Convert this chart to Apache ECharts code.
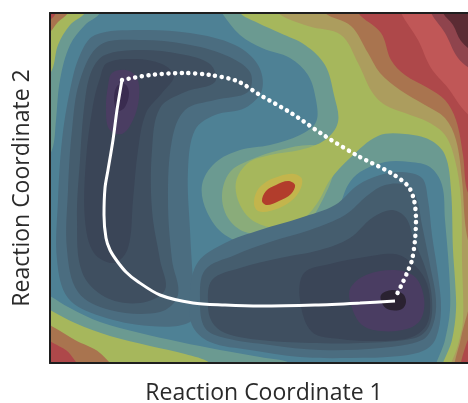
<!DOCTYPE html>
<html><head><meta charset="utf-8">
<script src="https://cdn.jsdelivr.net/npm/echarts@6/dist/echarts.min.js"></script>
<style>html,body{margin:0;padding:0;background:#fff;}#c{width:468px;height:403px;}</style>
</head><body><div id="c"></div>
<script>
// ---- axis extents (arbitrary reaction-coordinate units) ----
const xRange = [0, 418];
const yRange = [0, 350];
const xTitle = 'Reaction Coordinate 1';
const yTitle = 'Reaction Coordinate 2';

// ---- paths [rc1, rc2] ----
const solidPath = [[72,283],[67,253],[63,223],[58,193],[55,175],[54,148],[56,125],[60,113],[67,102],[76,91],[87,82],[110,68],[143,60],[175,58],[210,57],[265,58],[310,60],[345,62]];
const dottedPath = [[72,283],[100,288],[133,290],[160,288],[187,282],[210,268],[241,250],[275,227],[308,207],[341,190],[358,177],[364,163],[366,143],[365,123],[362,103],[357,90],[352,79],[346,67]];

// ---- contour region boundaries [rc1, rc2] (high energy) ----
const plateauH1 = [[165,363],[172,350],[190,328],[212,315],[240,305],[258,288],[266,263],[266,241],[250,228],[220,218],[190,213],[165,200],[152,178],[157,151],[175,128],[205,118],[240,123],[268,135],[287,153],[298,178],[310,191],[335,201],[360,201],[380,196],[392,178],[395,143],[399,93],[400,53],[395,23],[386,-12],[430,-12],[430,363]];
const plateauH2 = [[185,363],[190,350],[208,340],[230,330],[255,318],[275,298],[284,268],[288,241],[275,223],[250,213],[220,208],[198,200],[186,181],[190,158],[205,141],[230,135],[252,143],[268,161],[280,183],[300,205],[328,227],[355,229],[380,223],[395,208],[401,173],[403,113],[405,83],[406,53],[402,23],[392,-12],[430,-12],[430,363]];
const plateauH3 = [[225,363],[228,350],[258,337],[291,328],[308,300],[322,271],[335,258],[355,250],[378,241],[395,228],[405,203],[411,163],[412,103],[413,43],[408,18],[400,-12],[430,-12],[430,363]];
const plateauH4 = [[272,363],[275,350],[301,337],[318,310],[330,290],[350,273],[375,258],[395,245],[406,223],[412,183],[416,133],[422,113],[430,113],[430,363]];
const plateauH5 = [[305,363],[308,350],[331,330],[341,303],[355,288],[378,275],[395,263],[406,243],[413,208],[417,173],[425,163],[430,163],[430,363]];
const plateauH6 = [[348,363],[351,350],[368,323],[381,295],[398,275],[412,255],[425,243],[430,243],[430,363]];
const plateauH7 = [[378,363],[381,350],[395,330],[408,305],[425,291],[430,291],[430,363]];
const plateauH8 = [[390,363],[393,350],[403,338],[411,322],[425,310],[430,310],[430,363]];
const peakH1b = [[172,168],[180,191],[200,203],[230,213],[260,218],[280,213],[285,198],[275,168],[255,138],[225,128],[195,131],[178,145]];
const peakGold = [[204,159],[207,172],[216,181],[230,187],[244,189],[252,184],[249,171],[237,159],[220,152],[208,152]];
const peakRed = [[212,162],[216,172],[226,178],[238,182],[245,178],[241,169],[229,162],[217,158]];
const cornerTL_H1 = [[-10,363],[50,363],[50,350],[35,338],[20,318],[10,283],[6,243],[2,213],[-10,198]];
const cornerTL_H2 = [[-10,363],[38,363],[35,350],[20,338],[8,318],[2,293],[-10,278]];
const cornerTL_H4 = [[-10,363],[22,363],[18,350],[8,341],[0,331],[-10,325]];
const cornerTL_H5 = [[-10,363],[10,363],[6,350],[0,343],[-10,339]];
const cornerBL_H1 = [[-10,73],[0,67],[20,55],[50,41],[90,30],[130,21],[170,13],[210,6],[240,0],[250,-12],[-10,-12]];
const cornerBL_H2 = [[-10,58],[0,53],[25,40],[60,27],[100,17],[135,9],[160,0],[165,-12],[-10,-12]];
const cornerBL_H4 = [[-10,41],[5,35],[25,23],[50,10],[65,-12],[-10,-12]];
const cornerBL_H5 = [[-10,25],[5,19],[20,9],[30,-12],[-10,-12]];
const cornerBR_H4 = [[425,73],[417,48],[411,25],[405,-12],[430,-12]];
const cornerBR_H5 = [[425,33],[416,18],[411,-12],[430,-12]];

// ---- contour region boundaries (low energy wells) ----
const wellA_L1 = [[45,328],[90,333],[140,330],[185,318],[208,298],[212,273],[195,255],[165,248],[145,233],[138,193],[140,133],[143,83],[145,63],[140,41],[100,37],[50,47],[18,65],[7,103],[8,163],[12,223],[20,273],[30,308]];
const wellA_L2 = [[50,318],[90,323],[135,319],[175,308],[200,291],[198,271],[165,263],[135,253],[122,223],[118,163],[122,103],[128,68],[110,51],[60,53],[28,71],[17,113],[18,173],[22,233],[30,283]];
const wellA_L3 = [[55,308],[90,313],[130,309],[160,299],[165,281],[135,271],[110,255],[102,213],[102,153],[110,103],[115,73],[90,60],[55,66],[32,91],[27,143],[30,203],[35,263],[42,293]];
const wellA_L4 = [[57,300],[85,304],[112,299],[124,287],[112,270],[96,250],[88,213],[83,163],[78,115],[64,100],[44,110],[35,143],[36,203],[43,258],[50,285]];
const wellA_L5 = [[62,290],[76,293],[87,285],[89,265],[83,243],[72,229],[59,234],[56,256],[58,277]];
const wellA_L6 = [[67,277],[75,279],[79,270],[75,256],[68,252],[64,263]];
const wellB_L1 = [[140,71],[148,101],[175,120],[210,133],[250,145],[285,158],[308,178],[330,188],[352,191],[372,185],[378,163],[382,128],[388,88],[391,53],[386,25],[375,13],[350,7],[300,5],[250,6],[200,13],[160,21],[142,38]];
const wellB_L2 = [[150,63],[155,93],[185,108],[220,121],[260,133],[295,148],[318,168],[335,178],[355,178],[366,166],[372,138],[380,98],[386,63],[383,38],[372,23],[330,15],[270,13],[220,18],[175,25],[155,35]];
const wellB_L3 = [[158,58],[162,83],[190,95],[230,105],[270,113],[300,125],[322,145],[342,153],[356,145],[364,123],[376,93],[382,63],[379,37],[365,25],[310,20],[260,20],[210,23],[175,30],[162,41]];
const wellB_L4 = [[250,63],[254,90],[280,99],[315,106],[345,109],[362,100],[375,84],[380,63],[377,39],[362,26],[330,22],[290,24],[262,31]];
const wellB_L5 = [[300,74],[316,88],[345,93],[365,86],[374,65],[371,44],[357,34],[330,32],[312,38],[302,55]];
const wellB_L6 = [[331,68],[342,73],[353,69],[356,61],[352,54],[340,53],[333,58]];

// drawing order: level name + region
const contourLayers = [
  ['H1', plateauH1], ['H1', cornerTL_H1], ['H1', cornerBL_H1],
  ['H1b', peakH1b],
  ['H2', plateauH2], ['H2', cornerTL_H2], ['H2', cornerBL_H2],
  ['H3', plateauH3],
  ['H4', plateauH4], ['H4', cornerTL_H4], ['H4', cornerBL_H4], ['H4', cornerBR_H4],
  ['H5', plateauH5], ['H5', cornerTL_H5], ['H5', cornerBL_H5], ['H5', cornerBR_H5],
  ['H6', plateauH6], ['H7', plateauH7], ['H8', plateauH8],
  ['P1', peakGold], ['P2', peakRed],
  ['L1', wellA_L1], ['L1', wellB_L1],
  ['L2', wellA_L2], ['L2', wellB_L2],
  ['L3', wellA_L3], ['L3', wellB_L3],
  ['L4', wellA_L4], ['L4', wellB_L4],
  ['L5', wellA_L5], ['L5', wellB_L5],
  ['L6a', wellA_L6], ['L6', wellB_L6]
];

// ---- styles ----
const baseColor = '#4e8195';
const levelColors = {H1:'#6b9a91', H1b:'#8aac7a', H2:'#a6b75c', H3:'#ac9d5e', H4:'#a9744f', H5:'#ae484a', H6:'#c05757', H7:'#8f444d', H8:'#5b2b33', P1:'#c3b54c', P2:'#b23d2c', L1:'#4b6d80', L2:'#455d6e', L3:'#3f4f60', L4:'#3a4557', L5:'#4a3d62', L6:'#2a2231', L6a:'#3a2c50'};

const chart = echarts.init(document.getElementById('c'), null, {renderer: 'canvas'});
const font = '"Open Sans", sans-serif';
chart.setOption({
  animation: false,
  grid: {left: 50, top: 13, right: 0, bottom: 40, outerBoundsMode: 'none', containLabel: false,
         show: true, backgroundColor: baseColor, borderWidth: 0},
  xAxis: [
    {type: 'value', min: xRange[0], max: xRange[1], position: 'bottom', z: 10,
     name: xTitle, nameLocation: 'middle', nameGap: 19,
     nameTextStyle: {fontFamily: font, fontSize: 23, color: '#2a2a2a', padding: [0,0,0,10]},
     axisLine: {show: true, onZero: false, lineStyle: {color: '#1e1e1e', width: 2}},
     axisTick: {show: false}, axisLabel: {show: false}, splitLine: {show: false}},
    {type: 'value', min: xRange[0], max: xRange[1], position: 'top', z: 10,
     axisLine: {show: true, onZero: false, lineStyle: {color: '#1e1e1e', width: 2}},
     axisTick: {show: false}, axisLabel: {show: false}, splitLine: {show: false}}
  ],
  yAxis: {type: 'value', min: yRange[0], max: yRange[1], z: 10,
     name: yTitle, nameLocation: 'middle', nameGap: 16,
     nameTextStyle: {fontFamily: font, fontSize: 23, color: '#2a2a2a'},
     axisLine: {show: true, onZero: false, lineStyle: {color: '#1e1e1e', width: 2}},
     axisTick: {show: false}, axisLabel: {show: false}, splitLine: {show: false}},
  series: [
    {type: 'custom', xAxisIndex: 0, clip: true, z: 1, silent: true,
     data: contourLayers.map((l, i) => [i, 0]),
     renderItem: function (params, api) {
       const layer = contourLayers[params.dataIndex];
       const pts = layer[1].map(p => api.coord(p));
       return {type: 'polygon', shape: {points: pts, smooth: 0.35},
               style: {fill: levelColors[layer[0]], stroke: null}};
     }},
    {type: 'line', xAxisIndex: 0, data: solidPath, smooth: 0.3, symbol: 'none', z: 3,
     lineStyle: {color: '#ffffff', width: 3}},
    {type: 'line', xAxisIndex: 0, data: dottedPath, smooth: 0.3, symbol: 'none', z: 3,
     lineStyle: {color: '#ffffff', width: 4.5, type: [0.1, 6.6], cap: 'round'}}
  ]
});
</script></body></html>
